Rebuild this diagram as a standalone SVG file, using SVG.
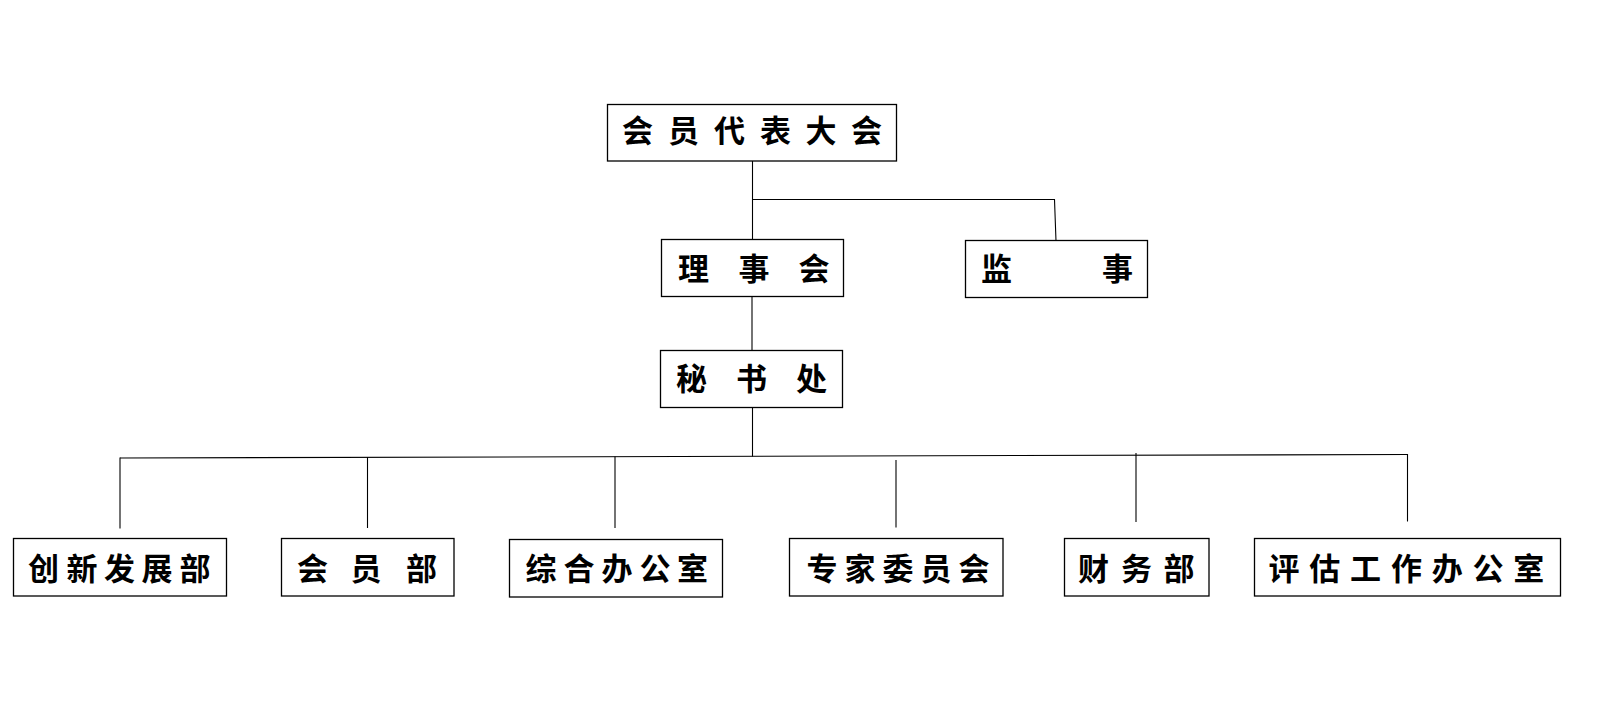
<svg xmlns="http://www.w3.org/2000/svg" width="1609" height="705" viewBox="0 0 1609 705">
<style>
.box{fill:#fff;stroke:#000;stroke-width:1.3}
.lbl{font-family:"Noto Sans CJK SC","Noto Sans CJK TC",sans-serif;font-weight:700;font-size:31px;fill:#000;text-anchor:middle}
.conn{fill:none;stroke:#000;stroke-width:1.1}
</style>
<rect width="1609" height="705" fill="#fff"/>
<g id="connectors" class="conn">
<path d="M752.5 161V240"/>
<path d="M752.5 199.5H1054.5L1056 241"/>
<path d="M752 296.6V351"/>
<path d="M752.5 407.4V456.5"/>
<path d="M120 458L1407.5 454.5"/>
<path d="M120 457.5V528.5"/>
<path d="M367.5 457V528"/>
<path d="M615 456.5V528"/>
<path d="M896 460V527.5"/>
<path d="M1136 453V522"/>
<path d="M1407.5 454V521.5"/>
</g>
<g id="n-huiyuandaibiaodahui">
<rect class="box" x="607.5" y="104.5" width="289" height="56.5"/>
<text class="lbl" x="637.5 683.5 729.5 775.5 821 866.5" y="142">会员代表大会</text>
</g>
<g id="n-lishihui">
<rect class="box" x="661.5" y="239.5" width="182" height="57"/>
<text class="lbl" x="693.5 754 814" y="280">理事会</text>
</g>
<g id="n-jianshi">
<rect class="box" x="965.5" y="240.5" width="182" height="57"/>
<text class="lbl" x="996.5 1117.5" y="280">监事</text>
</g>
<g id="n-mishuchu">
<rect class="box" x="660.5" y="350.5" width="182" height="57"/>
<text class="lbl" x="691.5 751.5 811.5" y="390">秘书处</text>
</g>
<g id="n-chuangxin">
<rect class="box" x="13.5" y="538.5" width="213" height="57.5"/>
<text class="lbl" x="43.5 82 119.5 157 195" y="580">创新发展部</text>
</g>
<g id="n-huiyuanbu">
<rect class="box" x="281.5" y="538.5" width="172.5" height="57.5"/>
<text class="lbl" x="312.5 366 421.5" y="580">会员部</text>
</g>
<g id="n-zonghe">
<rect class="box" x="509.5" y="539.5" width="213" height="57.5"/>
<text class="lbl" x="541 579 617 655 692.5" y="580">综合办公室</text>
</g>
<g id="n-zhuanjia">
<rect class="box" x="789.5" y="538.5" width="213.5" height="57.5"/>
<text class="lbl" x="822 860 898 936 974" y="580">专家委员会</text>
</g>
<g id="n-caiwu">
<rect class="box" x="1064.5" y="538.5" width="144.5" height="57.5"/>
<text class="lbl" x="1093.5 1136.5 1179" y="580">财务部</text>
</g>
<g id="n-pinggu">
<rect class="box" x="1254.5" y="538.5" width="306" height="57.5"/>
<text class="lbl" x="1284 1324.8 1365.6 1406.4 1447.2 1488 1528.8" y="580">评估工作办公室</text>
</g>
</svg>
